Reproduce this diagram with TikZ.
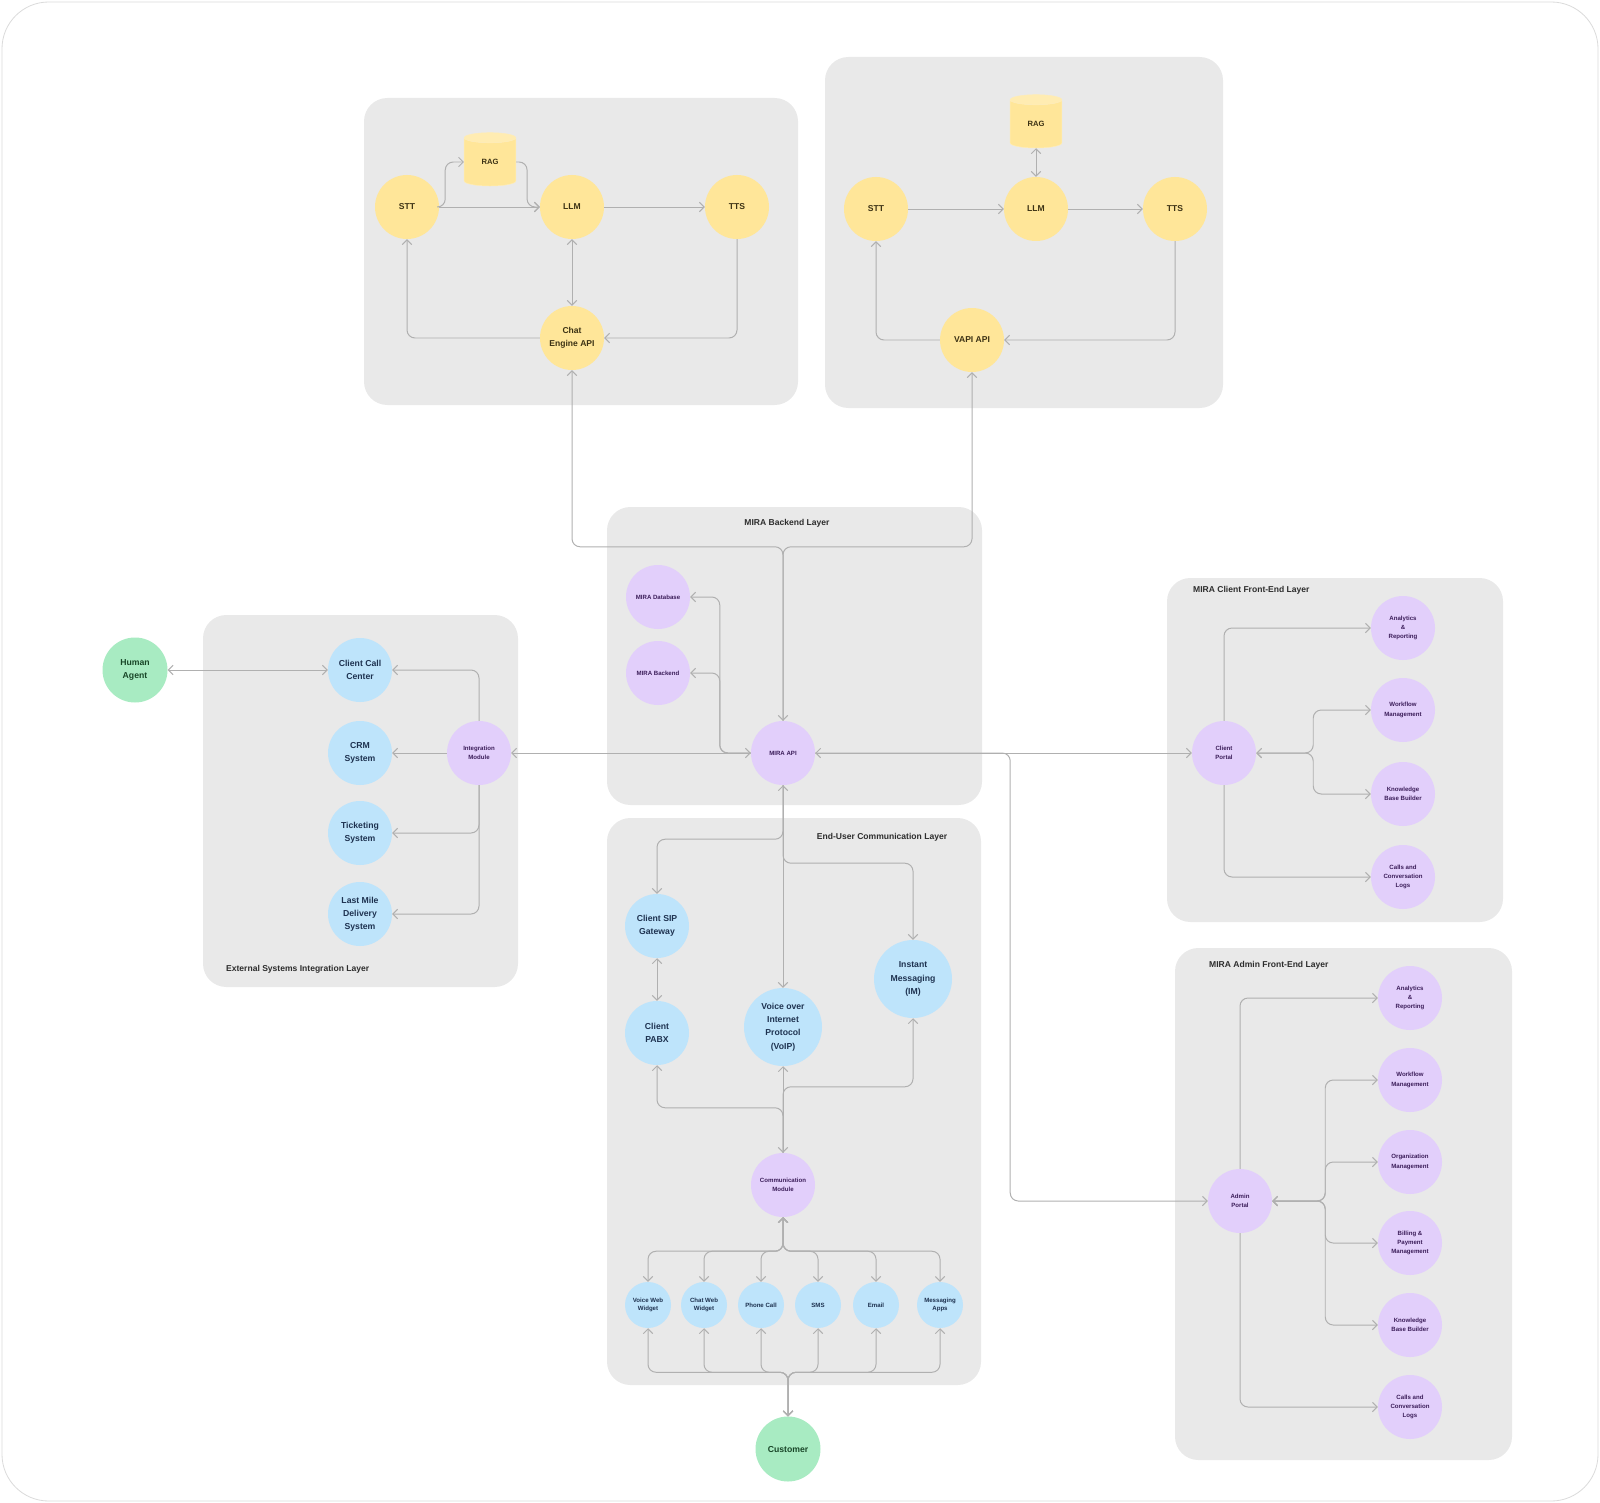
\documentclass[tikz,border=0pt]{standalone}
\usepackage{fontspec}
\setmainfont{Liberation Sans}
\usepackage{xcolor}
\definecolor{sunflower}{RGB}{255,230,153}
\definecolor{skyblue}{RGB}{190,228,251}
\definecolor{lavender}{RGB}{226,207,251}
\definecolor{mint}{RGB}{168,235,194}
\definecolor{cloud}{RGB}{233,233,233}
\definecolor{wire}{RGB}{176,176,176}
\definecolor{ink}{RGB}{45,45,45}
\definecolor{honey}{RGB}{60,50,20}
\definecolor{navy}{RGB}{30,50,80}
\definecolor{plum}{RGB}{60,30,90}
\definecolor{forest}{RGB}{25,70,40}
\usetikzlibrary{arrows.meta,shapes.geometric}

\tikzset{
  layer/.style={fill=cloud, rounded corners=7mm},
  layertitle/.style={font=\fontsize{7.3}{9}\selectfont\bfseries, text=ink},
  bubble/.style={circle, inner sep=0pt, align=center, minimum size=19.2mm},
  corenode/.style={bubble, fill=sunflower, text=honey, font=\fontsize{7.3}{11}\selectfont\bfseries},
  ragstore/.style={cylinder, shape border rotate=90, aspect=0.6, cylinder uses custom fill,
    cylinder body fill=sunflower, cylinder end fill=sunflower!75!white, draw=sunflower!70!white, line width=0.4pt,
    minimum width=15.5mm, minimum height=16mm, inner sep=0pt, text=honey, font=\fontsize{6.5}{8}\selectfont\bfseries},
  sysnode/.style={bubble, fill=skyblue, text=navy, font=\fontsize{7.4}{11.3}\selectfont\bfseries},
  bignode/.style={sysnode, minimum size=23.4mm},
  channode/.style={bubble, fill=skyblue, text=navy, minimum size=13.8mm, font=\fontsize{5.2}{7.5}\selectfont\bfseries},
  modnode/.style={bubble, fill=lavender, text=plum, font=\fontsize{5.2}{8}\selectfont\bfseries},
  actor/.style={bubble, fill=mint, text=forest, minimum size=19.5mm, font=\fontsize{7.4}{11.3}\selectfont\bfseries},
  flow/.style={draw=wire, line width=0.85pt, rounded corners=2.4mm, ->},
  both/.style={flow, <->},
}

\begin{document}
\begin{tikzpicture}[x=0.3mm, y=-0.3mm, >={Straight Barb[length=1.4mm,width=2.8mm]}]
\useasboundingbox (0,0) rectangle (1600,1503);
\draw[black!14, line width=0.7pt, rounded corners=14mm] (2,2) rectangle (1598,1501);

% layers
\fill[layer] (364,98) rectangle (798,405);
\fill[layer] (825,57) rectangle (1223,408);
\fill[layer] (607,507) rectangle (982,805);
\fill[layer] (607,818) rectangle (981,1385);
\fill[layer] (203,615) rectangle (518,987);
\fill[layer] (1167,578) rectangle (1503,922);
\fill[layer] (1175,948) rectangle (1512,1460);

\node[layertitle] (ttlbackend) at (787,523) {MIRA Backend Layer};
\node[layertitle] (ttlcomm) at (882,837) {End-User Communication Layer};
\node[layertitle, anchor=west] (ttlext) at (222,969) {External Systems Integration Layer};
\node[layertitle, anchor=west] (ttlclient) at (1189,590) {MIRA Client Front-End Layer};
\node[layertitle, anchor=west] (ttladmin) at (1205,965) {MIRA Admin Front-End Layer};

% chat engine
\node[corenode] (sttA) at (407,207) {STT};
\node[ragstore] (ragA) at (490,162) {RAG};
\node[corenode] (llmA) at (572,207) {LLM};
\node[corenode] (ttsA) at (737,207) {TTS};
\node[corenode] (chatapi) at (572,338) {Chat\\Engine API};

% vapi
\node[corenode] (sttB) at (876,209) {STT};
\node[ragstore] (ragB) at (1036,124) {RAG};
\node[corenode] (llmB) at (1036,209) {LLM};
\node[corenode] (ttsB) at (1175,209) {TTS};
\node[corenode] (vapi) at (972,340) {VAPI API};

% backend
\node[modnode] (miradb) at (658,597) {MIRA Database};
\node[modnode] (mirabe) at (658,673) {MIRA Backend};
\node[modnode] (miraapi) at (783,753) {MIRA API};

% external systems
\node[actor] (human) at (135,670) {Human\\Agent};
\node[sysnode] (callctr) at (360,670) {Client Call\\Center};
\node[sysnode] (crm) at (360,753) {CRM\\System};
\node[sysnode] (ticket) at (360,833) {Ticketing\\System};
\node[sysnode] (lastmile) at (360,914) {Last Mile\\Delivery\\System};
\node[modnode] (integ) at (479,753) {Integration\\Module};

% end-user communication
\node[sysnode] (sip) at (657,926) {Client SIP\\Gateway};
\node[sysnode] (pabx) at (657,1033) {Client\\PABX};
\node[bignode] (voip) at (783,1027) {Voice over\\Internet\\Protocol\\(VoIP)};
\node[bignode] (im) at (913,979) {Instant\\Messaging\\(IM)};
\node[modnode] (commod) at (783,1185) {Communication\\Module};
\node[channode] (vww) at (648,1305) {Voice Web\\Widget};
\node[channode] (cww) at (704,1305) {Chat Web\\Widget};
\node[channode] (phone) at (761,1305) {Phone Call};
\node[channode] (sms) at (818,1305) {SMS};
\node[channode] (email) at (876,1305) {Email};
\node[channode] (mapps) at (940,1305) {Messaging\\Apps};
\node[actor] (cust) at (788,1449) {Customer};

% client front-end
\node[modnode] (cportal) at (1224,753) {Client\\Portal};
\node[modnode] (canalytics) at (1403,628) {Analytics\\\&\\Reporting};
\node[modnode] (cworkflow) at (1403,710) {Workflow\\Management};
\node[modnode] (cknow) at (1403,794) {Knowledge\\Base Builder};
\node[modnode] (clogs) at (1403,877) {Calls and\\Conversation\\Logs};

% admin front-end
\node[modnode] (aportal) at (1240,1201) {Admin\\Portal};
\node[modnode] (aanalytics) at (1410,998) {Analytics\\\&\\Reporting};
\node[modnode] (aworkflow) at (1410,1080) {Workflow\\Management};
\node[modnode] (aorg) at (1410,1162) {Organization\\Management};
\node[modnode] (abilling) at (1410,1243) {Billing \&\\Payment\\Management};
\node[modnode] (aknow) at (1410,1325) {Knowledge\\Base Builder};
\node[modnode] (alogs) at (1410,1407) {Calls and\\Conversation\\Logs};

% chat engine loop
\draw[flow] (sttA) -- (llmA);
\draw[flow] (sttA.east) -- ++(6,0) |- (ragA.west);
\draw[flow] (ragA.east) -- ++(11,0) |- (llmA.west);
\draw[flow] (llmA) -- (ttsA);
\draw[both] (llmA) -- (chatapi);
\draw[flow] (ttsA.south) |- (chatapi.east);
\draw[flow] (chatapi.west) -| (sttA.south);

% vapi loop
\draw[flow] (sttB) -- (llmB);
\draw[flow] (llmB) -- (ttsB);
\draw[both] (ragB) -- (llmB);
\draw[flow] (ttsB.south) |- (vapi.east);
\draw[flow] (vapi.west) -| (sttB.south);

% backend links
\draw[both] (miraapi.north) -- ++(0,-174) -| (chatapi.south);
\draw[flow] (miraapi.north) -- ++(0,-174) -| (vapi.south);
\draw[flow] (miraapi.west) -- ++(-31,0) |- (miradb.east);
\draw[flow] (miraapi.west) -- ++(-31,0) |- (mirabe.east);
\draw[both] (integ.east) -- (miraapi.west);
\draw[both] (miraapi.east) -- (cportal.west);
\draw[flow] (miraapi.east) -- ++(195,0) |- (aportal.west);

% external systems
\draw[both] (human) -- (callctr);
\draw[flow] (integ.north) |- (callctr.east);
\draw[flow] (integ) -- (crm);
\draw[flow] (integ.south) |- (ticket.east);
\draw[flow] (integ.south) |- (lastmile.east);

% communication
\draw[both] (miraapi.south) -- (voip.north);
\draw[flow] (miraapi.south) -- ++(0,54) -| (sip.north);
\draw[flow] (miraapi.south) -- ++(0,78) -| (im.north);
\draw[both] (sip) -- (pabx);
\draw[both] (commod.north) -- (voip.south);
\draw[flow] (commod.north) -- ++(0,-45) -| (pabx.south);
\draw[flow] (commod.north) -- ++(0,-66) -| (im.south);
\foreach \ch in {vww,cww,phone,sms,email,mapps} {
  \draw[both] (commod.south) -- ++(0,34) -| (\ch.north);
  \draw[both] (cust.north) -- ++(0,-44) -| (\ch.south);
}

% client front-end
\draw[flow] (cportal.north) |- (canalytics.west);
\draw[flow] (cportal.south) |- (clogs.west);
\draw[both] (cportal.east) -- ++(57,0) |- (cworkflow.west);
\draw[both] (cportal.east) -- ++(57,0) |- (cknow.west);

% admin front-end
\draw[flow] (aportal.north) |- (aanalytics.west);
\draw[flow] (aportal.south) |- (alogs.west);
\foreach \n in {aworkflow,aorg,abilling,aknow}
  \draw[both] (aportal.east) -- ++(53,0) |- (\n.west);
\end{tikzpicture}
\end{document}
